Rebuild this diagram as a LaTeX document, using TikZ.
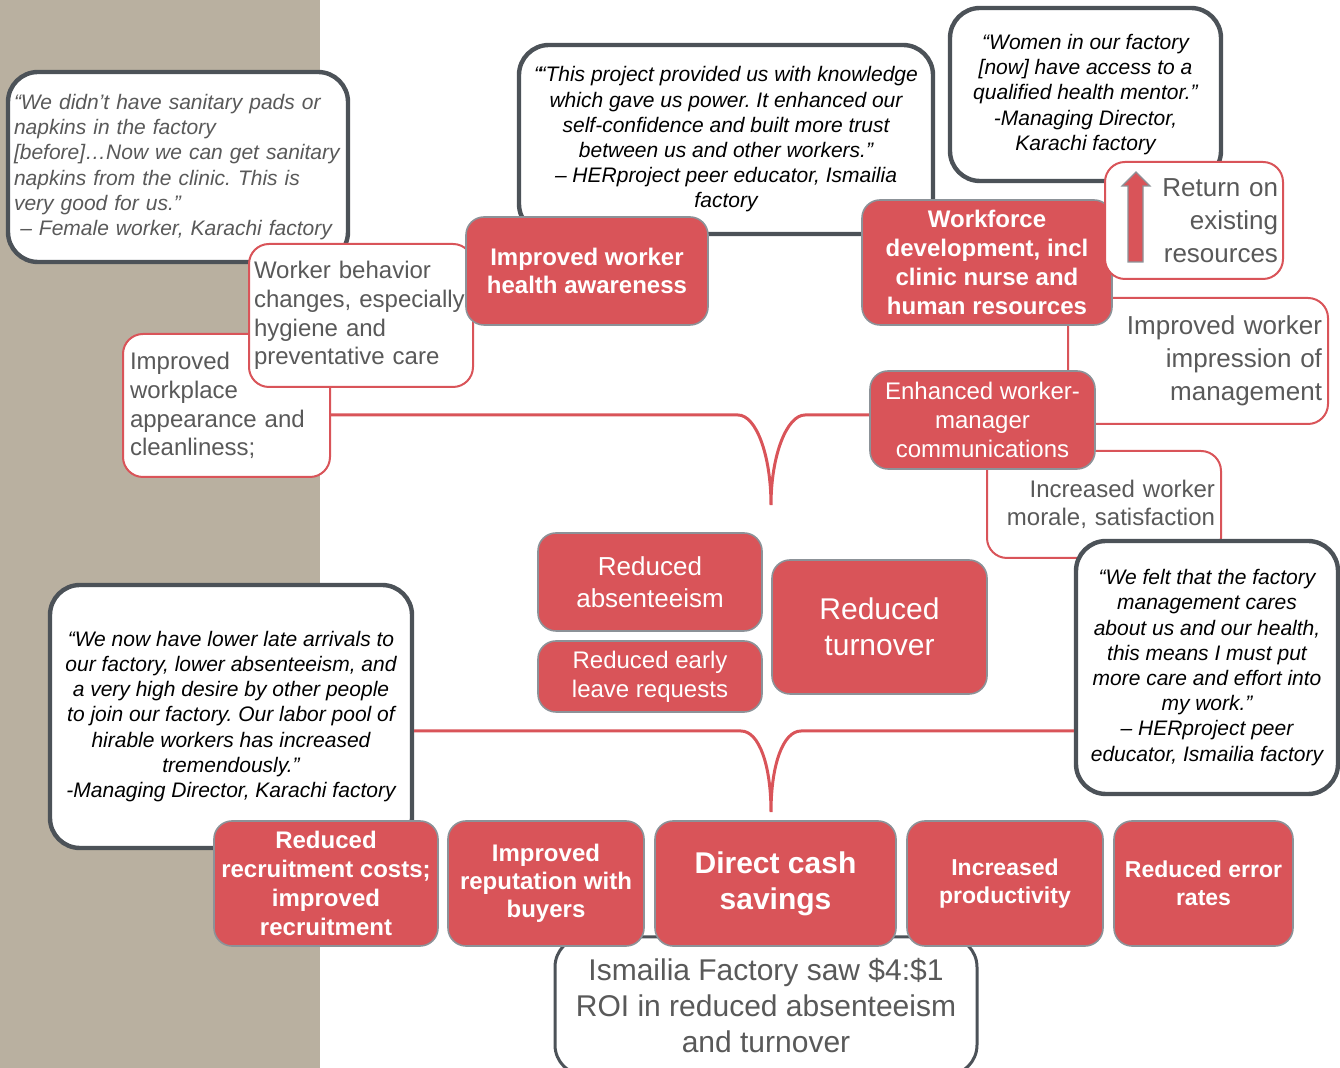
\documentclass[tikz,border=0pt]{standalone}
\usepackage{fontspec}
\setmainfont{Liberation Sans}
\usepackage{tikz}
\usetikzlibrary{positioning,calc}

\definecolor{herred}{RGB}{217,84,89}
\definecolor{boxgrey}{RGB}{140,146,152}
\definecolor{darkgrey}{RGB}{76,82,88}
\definecolor{textgrey}{RGB}{89,89,89}
\definecolor{panel}{RGB}{185,176,160}

\hyphenpenalty=10000
\exhyphenpenalty=10000

\begin{document}
\frenchspacing
\begin{tikzpicture}[x=0.5pt,y=-0.5pt,
  quotebox/.style={draw=darkgrey, line width=2.2pt, fill=white, rounded corners=15pt,
    inner sep=0pt, align=center, font=\fontsize{10.5}{12.6}\selectfont\itshape},
  redbox/.style={draw=boxgrey, line width=0.8pt, fill=herred, rounded corners=9pt,
    text=white, inner sep=0pt, align=center},
  outbox/.style={draw=herred, line width=1pt, fill=white, rounded corners=10pt,
    text=textgrey, inner ysep=0pt},
  brace/.style={draw=herred, line width=1.5pt}]
\useasboundingbox (0,0) rectangle (1340,1068);
\clip (0,0) rectangle (1340,1068);

% Background panel
\fill[panel] (0,0) rectangle (320,1068);

% Boxes partly hidden behind others
\node[outbox, minimum width=130pt, minimum height=63pt, text width=124pt, inner xsep=3pt,
  align=right, font=\fontsize{13}{16.5}\selectfont] (impression) at (1198,361)
  {Improved worker\\impression of\\management};
\node[outbox, minimum width=117pt, minimum height=53.5pt, text width=111pt, inner xsep=3pt,
  align=right, font=\fontsize{12}{14}\selectfont] (morale) at (1104,504.5)
  {Increased worker\\morale, satisfaction};

% Quotes
\node[quotebox, minimum width=170pt, minimum height=95pt, text width=164pt, inner xsep=3pt,
  align=left, text=textgrey] (femaleq) at (178,167)
  {“We didn’t have sanitary pads or\\napkins in the factory\\{}[before]…Now we can get sanitary\\napkins from the clinic. This is\\very good for us.”\\\hspace*{0.3em}– Female worker, Karachi factory};
\node[quotebox, minimum width=207pt, minimum height=94.5pt] (powerq) at (726,139.5)
  {“\kern-0.12em“This project provided us with knowledge\\which gave us power. It enhanced our\\self-confidence and built more trust\\between us and other workers.”\\– HERproject peer educator, Ismailia\\factory};
\node[quotebox, minimum width=135.5pt, minimum height=86.5pt] (mentorq) at (1085.5,94.5)
  {“Women in our factory\\{}[now] have access to a\\qualified health mentor.”\\-Managing Director,\\Karachi factory};
\node[quotebox, minimum width=181pt, minimum height=131.5pt] (arrivalq) at (231,716.5)
  {“We now have lower late arrivals to\\our factory, lower absenteeism, and\\a very high desire by other people\\to join our factory. Our labor pool of\\hirable workers has increased\\tremendously.”\\-Managing Director, Karachi factory};
\node[quotebox, minimum width=131pt, minimum height=126.5pt] (caresq) at (1207,667.5)
  {“We felt that the factory\\management cares\\about us and our health,\\this means I must put\\more care and effort into\\my work.”\\– HERproject peer\\educator, Ismailia factory};

% Outlined effects
\node[outbox, minimum width=103.5pt, minimum height=71.5pt, text width=96.5pt, inner xsep=3.5pt,
  align=left, font=\fontsize{12}{14.4}\selectfont] (workplace) at (226.5,405.5)
  {Improved\\workplace\\appearance and\\cleanliness;};
\node[outbox, minimum width=112pt, minimum height=71.5pt, text width=107pt, inner xsep=2.5pt,
  align=left, font=\fontsize{12}{14.4}\selectfont] (behavior) at (361,315.5)
  {Worker behavior\\changes, especially\\hygiene and\\preventative care};

% Result box
\node[draw=darkgrey, line width=1.5pt, fill=white, rounded corners=15pt, minimum width=211pt,
  minimum height=69pt, inner sep=0pt, align=center, text=textgrey,
  font=\fontsize{15}{18}\selectfont] (roi) at (766,1006)
  {Ismailia Factory saw \$4:\$1\\ROI in reduced absenteeism\\and turnover};

% Red boxes
\node[redbox, minimum width=121pt, minimum height=54pt, font=\fontsize{12}{14}\selectfont\bfseries]
  (health) at (587,271) {Improved worker\\health awareness};
\node[redbox, minimum width=125pt, minimum height=62.5pt, font=\fontsize{12}{14.5}\selectfont\bfseries]
  (workforce) at (987,262.5) {Workforce\\development, incl\\clinic nurse and\\human resources};
\node[redbox, minimum width=112.5pt, minimum height=49pt, font=\fontsize{12}{14.5}\selectfont]
  (enhanced) at (982.5,420) {Enhanced worker-\\manager\\communications};
\node[redbox, minimum width=112pt, minimum height=49pt, font=\fontsize{13}{16}\selectfont]
  (absent) at (650,582) {Reduced\\absenteeism};
\node[redbox, minimum width=112pt, minimum height=35.5pt, font=\fontsize{12}{14.5}\selectfont]
  (earlyleave) at (650,676.5) {Reduced early\\leave requests};
\node[redbox, minimum width=107.5pt, minimum height=67pt, font=\fontsize{15}{18}\selectfont]
  (turnover) at (879.5,627) {Reduced\\turnover};

% Bottom row
\node[redbox, minimum width=112pt, minimum height=62.5pt, font=\fontsize{12}{14.5}\selectfont\bfseries]
  (recruit) at (326,883.5) {Reduced\\recruitment costs;\\improved\\recruitment};
\node[redbox, minimum width=98pt, minimum height=62.5pt, font=\fontsize{12}{14}\selectfont\bfseries]
  (reputation) at (546,883.5) {Improved\\reputation with\\buyers};
\node[redbox, minimum width=120.5pt, minimum height=62.5pt, font=\fontsize{15}{18}\selectfont\bfseries]
  (cash) at (775.5,883.5) {Direct cash\\savings};
\node[redbox, minimum width=98pt, minimum height=62.5pt, font=\fontsize{11.5}{14}\selectfont\bfseries]
  (productivity) at (1005,883.5) {Increased\\productivity};
\node[redbox, minimum width=89.5pt, minimum height=62.5pt, font=\fontsize{11.5}{14}\selectfont\bfseries]
  (errors) at (1203.5,883.5) {Reduced error\\rates};

% Return on resources
\node[outbox, minimum width=89pt, minimum height=58.5pt, text width=84pt, inner xsep=2.5pt,
  align=right, font=\fontsize{13}{16.5}\selectfont] (returnres) at (1194,220.5)
  {Return on\\existing\\resources};
\filldraw[fill=herred, draw=boxgrey, line width=0.6pt] (1128,262) -- (1128,186) -- (1122,186)
  -- (1136,172) -- (1150,186) -- (1143,186) -- (1143,262) -- cycle;

% Braces
\coordinate (upL) at (738,415);
\coordinate (uptip) at (771,505);
\coordinate (upR) at (805,415);
\draw[brace] (workplace.east |- upL) -- (upL) .. controls (756,415) and (771,455) .. (uptip)
  .. controls (771,455) and (787,415) .. (upR) -- (enhanced.west |- upR);
\coordinate (lowL) at (741,731);
\coordinate (lowtip) at (771,812);
\coordinate (lowR) at (801,731);
\draw[brace] (arrivalq.east |- lowL) -- (lowL) .. controls (759,731) and (771,765) .. (lowtip)
  .. controls (771,765) and (783,731) .. (lowR) -- (caresq.west |- lowR);
\end{tikzpicture}
\end{document}
